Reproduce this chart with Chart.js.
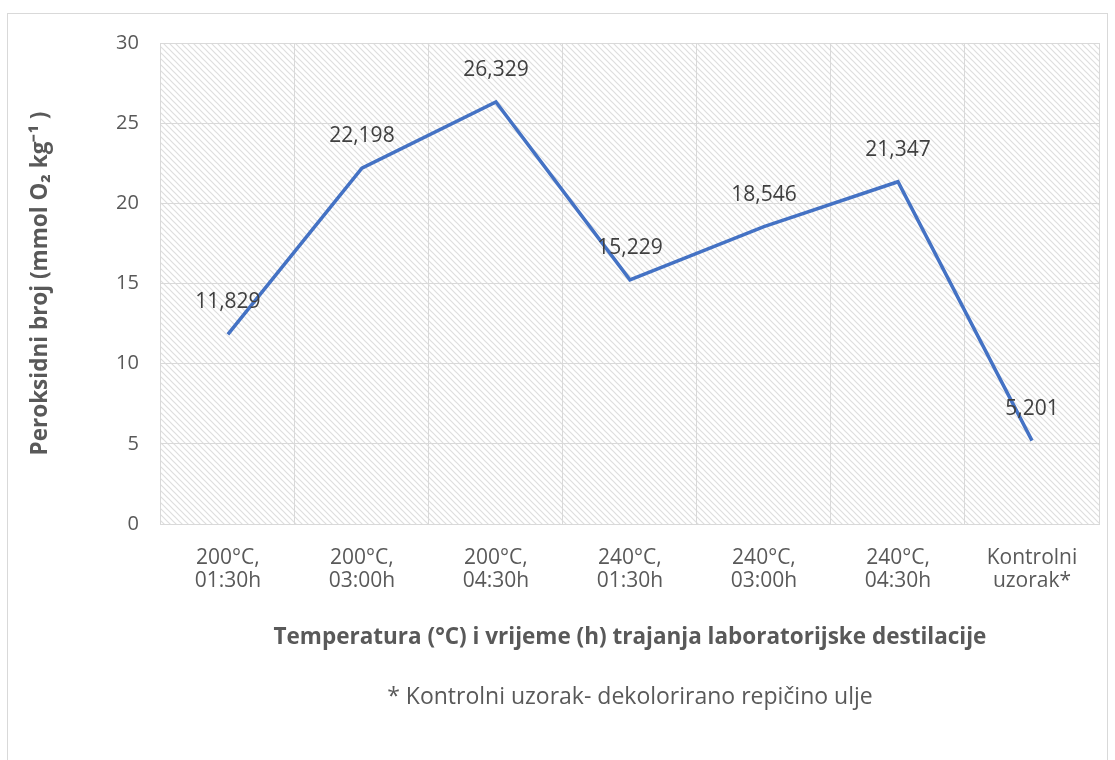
<!DOCTYPE html>
<html>
<head>
<meta charset="utf-8">
<script src="https://cdn.jsdelivr.net/npm/chart.js@4"></script>
<style>
  html, body { margin: 0; padding: 0; background: #fff; }
  #wrap { width: 1115px; height: 760px; }
</style>
</head>
<body>
<div id="wrap"><canvas id="chart"></canvas></div>
<script>
const categories = [
    ['200°C,', '01:30h'],
    ['200°C,', '03:00h'],
    ['200°C,', '04:30h'],
    ['240°C,', '01:30h'],
    ['240°C,', '03:00h'],
    ['240°C,', '04:30h'],
    ['Kontrolni', 'uzorak*']
];
const peroxideValues = [11.829, 22.198, 26.329, 15.229, 18.546, 21.347, 5.201];
const valueLabels = ['11,829', '22,198', '26,329', '15,229', '18,546', '21,347', '5,201'];
const yTicks = [0, 5, 10, 15, 20, 25, 30];

const FONT = '"Open Sans", sans-serif';
const TEXT = '#595959';
const GRID = '#d9d9d9';

// diagonal hatch fill for the plot area
function makeHatch() {
    const c = document.createElement('canvas');
    c.width = 6; c.height = 6;
    const g = c.getContext('2d');
    g.strokeStyle = '#dedede';
    g.lineWidth = 1.2;
    g.beginPath();
    g.moveTo(-1, -1); g.lineTo(7, 7);
    g.moveTo(-1, 5); g.lineTo(1, 7);
    g.moveTo(5, -1); g.lineTo(7, 1);
    g.stroke();
    return g.createPattern(c, 'repeat');
}

const backdrop = {
    id: 'backdrop',
    beforeDraw(chart) {
        const ctx = chart.ctx;
        const a = chart.chartArea;
        ctx.save();
        ctx.fillStyle = '#fff';
        ctx.fillRect(0, 0, chart.width, chart.height);
        ctx.strokeStyle = '#d9d9d9';
        ctx.lineWidth = 1;
        ctx.strokeRect(7.5, 13.5, 1100, 760);
        ctx.fillStyle = makeHatch();
        ctx.fillRect(a.left, a.top, a.right - a.left, a.bottom - a.top);
        ctx.restore();
    }
};

const pointLabels = {
    id: 'pointLabels',
    afterDatasetsDraw(chart) {
        const ctx = chart.ctx;
        const meta = chart.getDatasetMeta(0);
        ctx.save();
        ctx.font = '21px ' + FONT;
        ctx.fillStyle = '#404040';
        ctx.textAlign = 'center';
        ctx.textBaseline = 'middle';
        meta.data.forEach((pt, i) => {
            ctx.fillText(valueLabels[i], pt.x, pt.y - 32);
        });
        ctx.restore();
    }
};

new Chart(document.getElementById('chart'), {
    type: 'line',
    data: {
        labels: categories,
        datasets: [{
            data: peroxideValues,
            borderColor: '#4472C4',
            borderWidth: 3.5,
            pointRadius: 0,
            tension: 0
        }]
    },
    options: {
        responsive: true,
        maintainAspectRatio: false,
        animation: false,
        layout: { padding: { top: 43, left: 27, right: 16, bottom: 49 } },
        plugins: {
            legend: { display: false },
            tooltip: { enabled: false },
            title: { display: false },
            subtitle: {
                display: true,
                position: 'bottom',
                fullSize: false,
                text: '* Kontrolni uzorak- dekolorirano repičino ulje',
                color: TEXT,
                font: { family: FONT, size: 23 },
                padding: { top: 32, bottom: 0 }
            }
        },
        scales: {
            x: {
                offset: true,
                grid: { color: GRID, offset: true, drawTicks: false },
                border: { color: GRID },
                ticks: { color: TEXT, font: { family: FONT, size: 21, lineHeight: 1.08 }, padding: 23, maxRotation: 0 },
                title: {
                    display: true,
                    text: 'Temperatura (°C) i vrijeme (h) trajanja laboratorijske destilacije',
                    color: TEXT,
                    font: { family: FONT, size: 22.5, weight: 'bold' },
                    padding: { top: 9, bottom: 0 }
                }
            },
            y: {
                min: 0,
                max: 30,
                afterBuildTicks(axis) { axis.ticks = yTicks.map(v => ({ value: v })); },
                grid: { color: GRID, drawTicks: false },
                border: { display: false },
                ticks: { color: TEXT, font: { family: FONT, size: 20 }, padding: 22 },
                title: {
                    display: true,
                    text: 'Peroksidni broj (mmol O₂ kg⁻¹ )',
                    color: TEXT,
                    font: { family: FONT, size: 22.5, weight: 'bold' },
                    padding: { top: 0, bottom: 40 }
                }
            }
        }
    },
    plugins: [backdrop, pointLabels]
});
</script>
</body>
</html>
